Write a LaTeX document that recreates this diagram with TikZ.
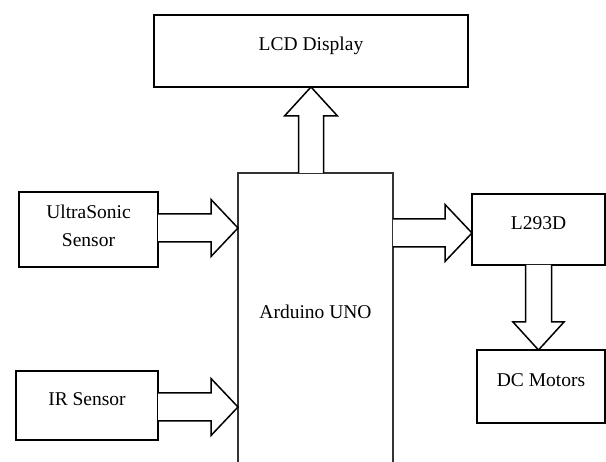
\documentclass[tikz,border=0pt]{standalone}
\usepackage{fontspec}
\setmainfont{Liberation Serif}
\usetikzlibrary{calc}
\tikzset{
  box/.style={draw=black, line width=1.5pt, inner sep=0pt, outer sep=0pt,
    font=\fontsize{19.5}{28}\selectfont, text height=8pt, text depth=8pt},
  mcu/.style={draw=black!80, line width=1.3pt, dash pattern=on 1.2pt off 0.3pt,
    inner sep=0pt, outer sep=0pt},
  txt/.style={inner sep=0pt, font=\fontsize{19.5}{28}\selectfont},
  blk/.style={draw=black, line width=1.5pt, line join=miter, fill=white}
}
\begin{document}
\begin{tikzpicture}[x=1pt,y=-1pt]
\useasboundingbox (0,0) rectangle (606,462);
\fill[white] (0,0) rectangle (606,462);
\clip (0,0) rectangle (606,462);
% blocks
\node[box, minimum width=314pt, minimum height=72pt] (lcd) at (311,51) {LCD Display};
\node[box, minimum width=139pt, minimum height=75pt] (us) at (88.5,229.5) {};
\node[txt, align=center] (ustxt) at (88.5,226) {UltraSonic\\Sensor};
\node[box, minimum width=142pt, minimum height=69pt] (ir) at (87,405.5) {IR Sensor};
\node[mcu, minimum width=155pt, minimum height=327pt] (ard) at (315.5,336.5) {};
\node[txt, anchor=base] (ardtxt) at (315.5,318.5) {Arduino UNO};
\node[box, minimum width=133pt, minimum height=71pt] (l293) at (538.5,229.5) {L293D};
\node[box, minimum width=128pt, minimum height=73pt] (dc) at (541,386.5) {DC Motors};
% block arrows
\coordinate (lt) at ($(l293.west)+(0,3.5)$);
% right-pointing: sensors -> arduino
\draw[blk] let \p1=(us.east), \p2=($(us.east -| ard.west)+(0,-1.5)$) in
  (\x1,\y2+14pt) -- (\x2-27pt,\y2+14pt) -- (\x2-27pt,\y2+28.5pt) -- (\x2,\y2)
  -- (\x2-27pt,\y2-28.5pt) -- (\x2-27pt,\y2-14pt) -- (\x1,\y2-14pt);
\draw[blk] let \p1=(ir.east), \p2=($(ir.east -| ard.west)+(0,1.5)$) in
  (\x1,\y2+14pt) -- (\x2-27pt,\y2+14pt) -- (\x2-27pt,\y2+28.5pt) -- (\x2,\y2)
  -- (\x2-27pt,\y2-28.5pt) -- (\x2-27pt,\y2-14pt) -- (\x1,\y2-14pt);
% arduino -> L293D
\draw[blk] let \p1=(lt -| ard.east), \p2=(lt) in
  (\x1,\y2+14pt) -- (\x2-27pt,\y2+14pt) -- (\x2-27pt,\y2+28.5pt) -- (\x2,\y2)
  -- (\x2-27pt,\y2-28.5pt) -- (\x2-27pt,\y2-14pt) -- (\x1,\y2-14pt);
% arduino -> LCD (up)
\draw[blk] let \p1=(lcd.south |- ard.north), \p2=(lcd.south) in
  (\x2-12.5pt,\y1) -- (\x2-12.5pt,\y2-29pt) -- (\x2-26.5pt,\y2-29pt) -- (\x2,\y2)
  -- (\x2+26.5pt,\y2-29pt) -- (\x2+12.5pt,\y2-29pt) -- (\x2+12.5pt,\y1);
% L293D -> DC motors (down)
\draw[blk] let \p1=(l293.south), \p2=(l293.south |- dc.north) in
  (\x1-13pt,\y1) -- (\x1-13pt,\y2+28pt) -- (\x1-25.5pt,\y2+28pt) -- (\x1,\y2)
  -- (\x1+25.5pt,\y2+28pt) -- (\x1+13pt,\y2+28pt) -- (\x1+13pt,\y1);
\end{tikzpicture}
\end{document}
